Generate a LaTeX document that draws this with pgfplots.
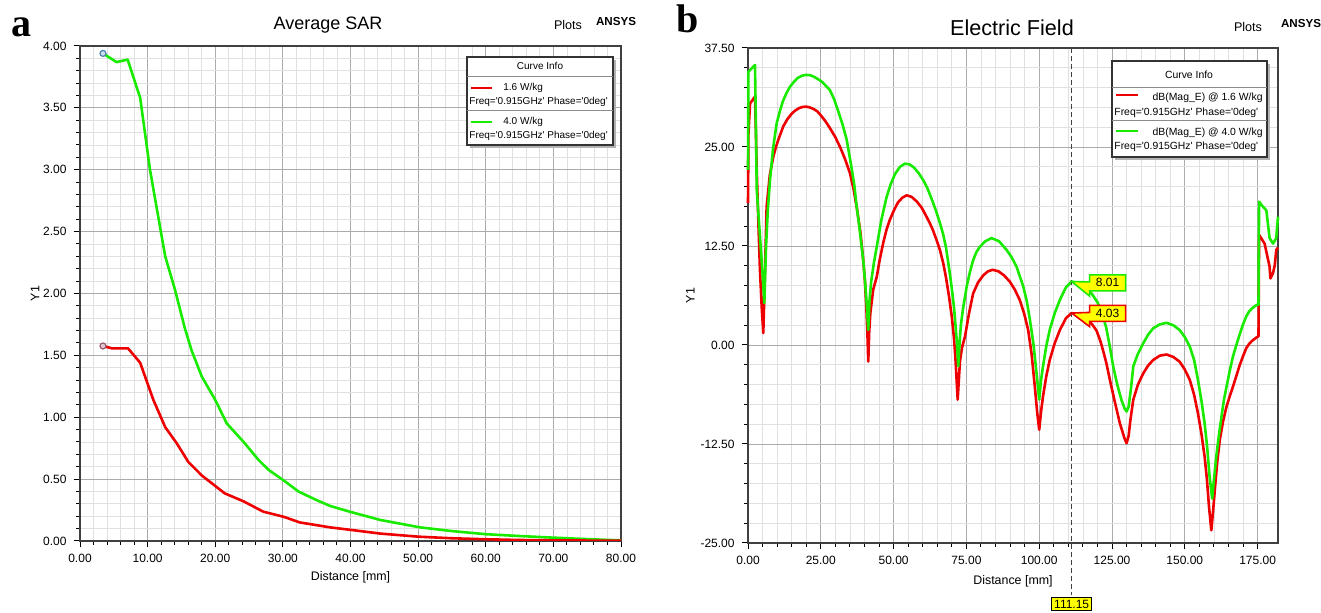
\documentclass[border=0pt]{standalone}
\usepackage{pgfplots}
\pgfplotsset{compat=1.18}
\usepackage{fontspec}
\setmainfont{Liberation Sans}
\newfontfamily\lserif{Liberation Serif}
\usetikzlibrary{shapes.callouts}
\definecolor{cRed}{RGB}{238,0,0}
\definecolor{cGreen}{RGB}{25,235,0}
\definecolor{cYel}{RGB}{255,255,0}
\newcommand{\q}{\textquotesingle}

\pgfplotsset{
 ansys/.style={
  scale only axis, anchor=south west,
  grid=both, minor tick num=4,
  major grid style={draw=black!33, line width=0.45pt},
  minor grid style={draw=black!12, line width=0.4pt},
  tick align=outside, tick pos=left,
  major tick length=3.2pt, minor tick length=2pt,
  tick style={black, line width=0.5pt},
  axis line style={black!75, line width=0.9pt},
  tick label style={font=\fontsize{6}{7}\selectfont},
  label style={font=\fontsize{6.2}{7}\selectfont},
  /pgf/number format/fixed, /pgf/number format/fixed zerofill,
  /pgf/number format/precision=2, /pgf/number format/assume math mode=true,
  every axis plot/.append style={line width=1.3pt, line join=round},
 }
}
\tikzset{lt/.style={inner sep=0pt, text height=3.7pt, text depth=1.1pt}}

\begin{document}
\begin{tikzpicture}
\useasboundingbox (0,0) rectangle (660.5pt,306.5pt);

% ---------------- panel a ----------------
\begin{axis}[ansys,
  at={(40pt,36pt)}, width=270.5pt, height=247.5pt,
  xmin=0, xmax=80, ymin=0, ymax=4,
  xtick={0,10,...,80}, ytick={0,0.5,...,4},
  xlabel={Distance [mm]}, ylabel={Y1},
  xlabel style={at={(axis description cs:0.5,-0.073)}, anchor=center},
  ylabel style={at={(axis description cs:-0.083,0.5)}, anchor=center},
]
\addplot[cGreen] coordinates {
(3.4,3.94)(5.4,3.87)(7.05,3.89)(8.9,3.58)(10.35,3.00)(12.6,2.30)(14.05,2.03)
(15.5,1.72)(16.5,1.54)(18.0,1.33)(20.0,1.14)(21.7,0.95)(24.2,0.80)(26.4,0.655)
(27.9,0.574)(30.1,0.49)(32.3,0.40)(35.0,0.33)(37.0,0.283)(40,0.235)(44.4,0.17)
(50.3,0.11)(55,0.08)(60,0.055)(65,0.04)(70,0.027)(75,0.015)(80,0.005)};
\addplot[cRed] coordinates {
(3.4,1.576)(4.7,1.557)(7.1,1.557)(8.9,1.44)(10.85,1.14)(12.6,0.92)(14.3,0.79)
(16.0,0.64)(18.0,0.53)(21.4,0.385)(24.2,0.32)(27.1,0.237)(30.1,0.196)(32.5,0.15)
(37.0,0.11)(40,0.09)(44.4,0.06)(50,0.035)(55,0.022)(60,0.014)(65,0.008)(70,0.005)(80,0.002)};
\addplot[only marks, mark=*, mark size=1.5pt, line width=0.6pt,
  mark options={draw={rgb,255:red,80;green,130;blue,175}, fill={rgb,255:red,200;green,222;blue,238}}]
  coordinates {(3.4,3.94)};
\addplot[only marks, mark=*, mark size=1.5pt, line width=0.6pt,
  mark options={draw={rgb,255:red,150;green,90;blue,110}, fill={rgb,255:red,225;green,200;blue,210}}]
  coordinates {(3.4,1.576)};
\end{axis}

% ---------------- panel b ----------------
\begin{axis}[ansys,
  at={(374pt,35pt)}, width=265pt, height=247.5pt,
  xmin=0, xmax=182, ymin=-25, ymax=37.5,
  xtick={0,25,...,175}, ytick={-25,-12.5,0,12.5,25,37.5},
  xlabel={Distance [mm]}, ylabel={Y1},
  xlabel style={at={(axis description cs:0.5,-0.077)}, anchor=center},
  ylabel style={at={(axis description cs:-0.109,0.5)}, anchor=center},
  clip=false,
]
\addplot[cRed] coordinates {
(0,17.9)(0.15,26.7)(0.7,30.5)(2.4,31.35)(2.7,27)(3.0,22)(3.6,15)(4.1,9.5)(4.7,4.8)
(5.25,1.5)(5.8,9.0)(6.4,17.5)(7.5,21.5)(8.7,23.8)(9.6,25.0)(10.5,26.0)(12.1,27.6)
(13.5,28.5)(15,29.2)(16.2,29.6)(17.5,29.9)(18.7,30.05)(19.9,30.1)(21.2,30.0)(22.5,29.8)
(23.8,29.5)(25,29.0)(26.5,28.3)(28.1,27.4)(29.9,26.3)(31.6,25.0)(33.3,23.5)(35.0,21.7)
(36.3,19.6)(37.5,17.0)(38.6,14.2)(39.5,11.0)(40.1,8.3)(40.6,5.0)(41.0,1.5)(41.3,-2.1)
(41.6,1.5)(42.0,4.0)(43.0,7.0)(44.2,8.6)(45.3,10.9)(46.5,13.0)(47.6,14.6)(48.7,15.8)
(50.1,17.0)(51.5,18.0)(53,18.6)(54.5,18.9)(56.2,18.7)(58,18.1)(59.7,17.3)(61.3,16.2)
(62.4,15.4)(63.5,14.5)(64.7,13.3)(65.9,12.0)(67,10.4)(68,8.5)(69,6.2)(70,3.5)(70.7,1.0)
(71.2,-1.5)(72.0,-6.9)(72.5,-3.8)(72.8,-2.0)(73.5,-0.3)(74.5,1.05)(75.9,4.0)(77.3,6.5)
(79,7.9)(80.8,8.8)(82.4,9.3)(84.0,9.5)(86,9.3)(87.9,8.8)(89.9,8.0)(91.6,7.0)(93.3,5.7)
(94.8,4.0)(96.2,1.9)(97.4,-1.2)(98.5,-5.3)(99.3,-8.5)(100.0,-10.7)(100.6,-8.5)(101.3,-6.5)
(102.4,-4.0)(103.6,-1.9)(105.3,0.2)(107.1,1.9)(109.2,3.4)(111.15,4.03)(113.5,3.9)
(116.5,3.2)(118.2,2.6)(119.7,1.8)(121,0.5)(122,-0.8)(123,-2.2)(124.5,-4.8)(126.1,-7.4)
(127.7,-9.9)(129.3,-11.8)(130,-12.4)(130.7,-11.5)(131.3,-9.5)(132.3,-6.9)(133.9,-5.0)
(135.7,-3.6)(137.4,-2.6)(139.1,-1.9)(141.4,-1.35)(143.7,-1.2)(146,-1.5)(148.2,-2.1)
(150,-3.1)(151.7,-4.4)(153.2,-6.3)(154.5,-8.6)(155.7,-11.2)(156.8,-14.1)(157.6,-17)
(158.3,-20.4)(159.1,-23.4)(159.7,-21)(160.3,-18.3)(161.1,-14.9)(162,-12.0)(163.1,-9.7)
(164.3,-7.8)(165.4,-6.5)(166.5,-5.3)(167.7,-3.9)(168.8,-2.6)(170,-1.4)(171.1,-0.4)
(172,0.1)(173,0.5)(174.8,1.0)(175.3,1.1)
(175.5,13.9)(177.4,12.8)(179.1,9.9)(179.4,8.4)(180.3,9.1)(180.9,10.1)(181.4,12.0)(182,12.3)};
\addplot[cGreen] coordinates {
(0,22.1)(0.15,34.5)(2.4,35.35)(2.7,28)(3.0,19.6)(4.35,12.4)(5.0,9.0)(5.6,5.3)
(6.2,12.5)(6.8,17.0)(7.55,20.8)(8.6,24.8)(9.85,28.0)(11,29.6)(12,30.8)(13.2,31.8)
(14.4,32.6)(15.7,33.2)(17,33.7)(18.5,34.0)(19.9,34.1)(21.5,34.05)(23,33.8)(24.3,33.5)
(25.5,33.2)(26.8,32.7)(28.1,32.2)(29.6,31.0)(31,29.5)(32.5,27.8)(33.9,25.9)(35.5,22.5)
(36.5,20.2)(37.3,17.5)(38.2,15.0)(39.0,12.5)(39.7,10.2)(40.3,7.5)(40.8,5.0)(41.3,1.9)
(41.7,5.5)(42.3,8.0)(43.2,10.3)(44.2,12.4)(45.8,15.8)(47.6,18.7)(49,20.3)(50.5,21.6)
(52.2,22.5)(53.9,22.9)(55.5,22.8)(57,22.4)(58.6,21.7)(60.2,20.8)(61.6,19.8)(63,18.5)
(64.5,17.0)(65.9,15.4)(67,14.0)(68,12.3)(69.3,9.05)(70.1,6.8)(70.8,4.5)(71.7,0.5)
(72.2,-2.7)(72.6,0)(73.1,2.5)(73.8,4.5)(75.1,7.4)(76.2,9.2)(77.3,10.7)(78.4,11.7)
(79.6,12.4)(81.5,13.1)(83.6,13.5)(86.2,13.1)(88.8,12.0)(90.5,11.1)(92.2,9.9)(94.5,7.4)
(95.7,5.6)(96.8,3.2)(98,0.2)(99.1,-3.6)(100.0,-6.9)(100.6,-4.5)(101.3,-2.7)(102.4,-0.2)
(103.6,1.9)(105.3,4.0)(107.1,5.7)(109.2,7.3)(111.15,8.01)(113.5,7.8)(116.5,6.9)
(118,6.5)(120,5.4)(121.5,4.1)(123,2.2)(124.3,-0.3)(125.4,-2.7)(126.8,-5.0)(128.2,-6.9)
(129.3,-8.0)(130,-8.4)(130.7,-7.8)(131.5,-5.5)(132.3,-2.7)(133.8,-1.2)(135.7,0.2)
(137.4,1.3)(139.1,2.1)(141.4,2.6)(143.7,2.8)(146,2.5)(148.2,1.9)(150,1.0)(151.7,-0.2)
(153.2,-1.9)(154.5,-4.4)(155.7,-7.0)(156.8,-9.9)(157.7,-13)(158.5,-16.6)(159.4,-19.4)
(160.0,-17)(160.8,-14.1)(161.7,-11.4)(162.6,-9.0)(163.4,-7.0)(164.3,-5.3)(165.4,-3.3)
(166.5,-1.5)(167.7,0.0)(168.8,1.3)(170,2.6)(171.1,3.6)(172,4.2)(173,4.6)(174.6,5.05)
(175.3,5.1)(175.5,18.1)(176.5,17.6)(178.0,17.0)(179.1,13.5)(180.3,12.8)(181.4,13.5)(182,16.2)};
\draw[black!75, line width=0.5pt, dash pattern=on 2.5pt off 1.5pt]
  (axis cs:111.15,37.5) -- (axis cs:111.15,-31.6);
\node[fill=cYel, draw=black, line width=0.5pt, inner sep=1.3pt,
  font=\fontsize{6}{7}\selectfont] at (axis cs:111.15,-32.7) {111.15};
\node[rectangle callout, callout absolute pointer={(axis cs:111.15,8.01)},
  fill=cYel, draw=cGreen, line width=0.8pt, inner sep=1pt, minimum width=18pt,
  minimum height=8pt, font=\fontsize{6}{7}\selectfont] at (axis cs:123.5,7.85) {8.01};
\node[rectangle callout, callout absolute pointer={(axis cs:111.15,4.03)},
  fill=cYel, draw=cRed, line width=0.8pt, inner sep=1pt, minimum width=18pt,
  minimum height=8pt, font=\fontsize{6}{7}\selectfont] at (axis cs:123.5,4.0) {4.03};
\end{axis}

% ---------------- legend a ----------------
\fill[black!30] (235pt,232.5pt) rectangle (308pt,276.5pt);
\filldraw[fill=white, draw=black!80, line width=0.6pt] (233.5pt,234pt) rectangle (306.5pt,278pt);
\draw[black!45, line width=0.5pt] (233.5pt,268pt) -- (306.5pt,268pt);
\draw[black!45, line width=0.5pt] (233.5pt,251pt) -- (306.5pt,251pt);
\begin{scope}[font=\fontsize{5}{6}\selectfont]
\node[lt] at (270pt,273pt) {Curve Info};
\draw[cRed, line width=1pt] (235.5pt,262.5pt) -- (246pt,262.5pt);
\node[lt, anchor=west] at (251.5pt,262.5pt) {1.6 W/kg};
\node[lt, anchor=west] at (234.5pt,255.5pt) {Freq=\q0.915GHz\q{} Phase=\q0deg\q};
\draw[cGreen, line width=1pt] (235.5pt,245.5pt) -- (246pt,245.5pt);
\node[lt, anchor=west] at (251.5pt,245.5pt) {4.0 W/kg};
\node[lt, anchor=west] at (234.5pt,238.5pt) {Freq=\q0.915GHz\q{} Phase=\q0deg\q};
\end{scope}

% ---------------- legend b ----------------
\fill[black!30] (557.5pt,226.5pt) rectangle (635pt,274.5pt);
\filldraw[fill=white, draw=black!80, line width=0.6pt] (556pt,228pt) rectangle (633.5pt,276pt);
\draw[black!45, line width=0.5pt] (556pt,262.5pt) -- (633.5pt,262.5pt);
\draw[black!45, line width=0.5pt] (556pt,246pt) -- (633.5pt,246pt);
\begin{scope}[font=\fontsize{5.2}{6}\selectfont]
\node[lt] at (594.5pt,268.5pt) {Curve Info};
\draw[cRed, line width=1pt] (558pt,259pt) -- (569pt,259pt);
\node[lt, anchor=east] at (631.5pt,257.5pt) {dB(Mag\_E) @ 1.6 W/kg};
\node[lt, anchor=west] at (557pt,250pt) {Freq=\q0.915GHz\q{} Phase=\q0deg\q};
\draw[cGreen, line width=1pt] (558pt,241pt) -- (569pt,241pt);
\node[lt, anchor=east] at (631.5pt,240pt) {dB(Mag\_E) @ 4.0 W/kg};
\node[lt, anchor=west] at (557pt,233pt) {Freq=\q0.915GHz\q{} Phase=\q0deg\q};
\end{scope}

% ---------------- titles ----------------
\node[font=\lserif\bfseries\fontsize{20}{22}\selectfont] at (10.5pt,292.75pt) {a};
\node[font=\lserif\bfseries\fontsize{20}{22}\selectfont] at (344pt,297pt) {b};
\node[font=\fontsize{9}{10}\selectfont] at (164pt,294pt) {Average SAR};
\node[font=\fontsize{6.3}{7}\selectfont] at (284pt,294pt) {Plots};
\node[font=\bfseries\fontsize{5.8}{7}\selectfont] at (308pt,295.5pt) {ANSYS};
\node[font=\fontsize{10.8}{12}\selectfont] at (506pt,292.5pt) {Electric Field};
\node[font=\fontsize{6.3}{7}\selectfont] at (624pt,293pt) {Plots};
\node[font=\bfseries\fontsize{5.8}{7}\selectfont] at (650.5pt,294.5pt) {ANSYS};
\end{tikzpicture}
\end{document}
